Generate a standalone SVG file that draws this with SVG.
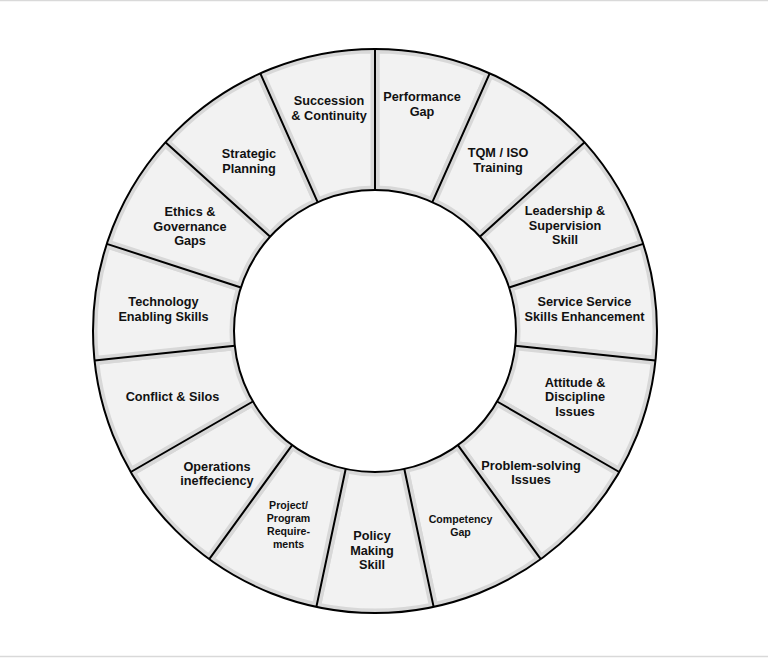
<svg xmlns="http://www.w3.org/2000/svg" width="768" height="658" viewBox="0 0 768 658">
<style>
.seg{fill:#f2f2f2;stroke:#d8d8d8;stroke-width:9;stroke-linejoin:miter}
.lbl{font-family:"Liberation Sans",Arial,sans-serif;font-weight:bold;font-size:12.7px;fill:#111;text-anchor:middle}
.sm{font-size:10.6px}
.ln{fill:none;stroke:#000;stroke-width:2}
</style>
<defs>
<clipPath id="ring">
<path clip-rule="evenodd" d="M93 331A282 282 0 1 0 657 331A282 282 0 1 0 93 331ZM234 331A141 141 0 1 0 516 331A141 141 0 1 0 234 331Z"/>
</clipPath>
</defs>
<rect width="768" height="658" fill="#fff"/>
<line x1="0" y1="0.5" x2="768" y2="0.5" stroke="#d9d9d9" stroke-width="1.5"/>
<line x1="0" y1="656.5" x2="768" y2="656.5" stroke="#d9d9d9" stroke-width="1.5"/>
<g clip-path="url(#ring)">
<g id="seg-performance"><path class="seg" d="M375 49A282 282 0 0 1 489.70 73.38L432.35 202.19A141 141 0 0 0 375 190Z"/></g>
<g id="seg-tqm"><path class="seg" d="M489.70 73.38A282 282 0 0 1 584.57 142.31L479.78 236.65A141 141 0 0 0 432.35 202.19Z"/></g>
<g id="seg-leadership"><path class="seg" d="M584.57 142.31A282 282 0 0 1 643.20 243.86L509.10 287.43A141 141 0 0 0 479.78 236.65Z"/></g>
<g id="seg-service"><path class="seg" d="M643.20 243.86A282 282 0 0 1 655.45 360.48L515.23 345.74A141 141 0 0 0 509.10 287.43Z"/></g>
<g id="seg-attitude"><path class="seg" d="M655.45 360.48A282 282 0 0 1 619.22 472L497.11 401.5A141 141 0 0 0 515.23 345.74Z"/></g>
<g id="seg-problem"><path class="seg" d="M619.22 472A282 282 0 0 1 540.76 559.14L457.88 445.07A141 141 0 0 0 497.11 401.5Z"/></g>
<g id="seg-competency"><path class="seg" d="M540.76 559.14A282 282 0 0 1 433.63 606.84L404.32 468.92A141 141 0 0 0 457.88 445.07Z"/></g>
<g id="seg-policy"><path class="seg" d="M433.63 606.84A282 282 0 0 1 316.37 606.84L345.68 468.92A141 141 0 0 0 404.32 468.92Z"/></g>
<g id="seg-project"><path class="seg" d="M316.37 606.84A282 282 0 0 1 209.24 559.14L292.12 445.07A141 141 0 0 0 345.68 468.92Z"/></g>
<g id="seg-operations"><path class="seg" d="M209.24 559.14A282 282 0 0 1 130.78 472L252.89 401.5A141 141 0 0 0 292.12 445.07Z"/></g>
<g id="seg-conflict"><path class="seg" d="M130.78 472A282 282 0 0 1 94.55 360.48L234.77 345.74A141 141 0 0 0 252.89 401.5Z"/></g>
<g id="seg-technology"><path class="seg" d="M94.55 360.48A282 282 0 0 1 106.80 243.86L240.90 287.43A141 141 0 0 0 234.77 345.74Z"/></g>
<g id="seg-ethics"><path class="seg" d="M106.80 243.86A282 282 0 0 1 165.43 142.31L270.22 236.65A141 141 0 0 0 240.90 287.43Z"/></g>
<g id="seg-strategic"><path class="seg" d="M165.43 142.31A282 282 0 0 1 260.30 73.38L317.65 202.19A141 141 0 0 0 270.22 236.65Z"/></g>
<g id="seg-succession"><path class="seg" d="M260.30 73.38A282 282 0 0 1 375 49L375 190A141 141 0 0 0 317.65 202.19Z"/></g>
</g>
<g id="connectors">
<circle class="ln" cx="375" cy="331" r="282"/>
<circle class="ln" cx="375" cy="331" r="141"/>
<path class="ln" d="M375 49L375 190M489.70 73.38L432.35 202.19M584.57 142.31L479.78 236.65M643.20 243.86L509.10 287.43M655.45 360.48L515.23 345.74M619.22 472L497.11 401.5M540.76 559.14L457.88 445.07M433.63 606.84L404.32 468.92M316.37 606.84L345.68 468.92M209.24 559.14L292.12 445.07M130.78 472L252.89 401.5M94.55 360.48L234.77 345.74M106.80 243.86L240.90 287.43M165.43 142.31L270.22 236.65M260.30 73.38L317.65 202.19"/>
</g>
<g id="labels">
<g id="lbl-performance"><text class="lbl" x="422" y="101">Performance</text><text class="lbl" x="422" y="115.5">Gap</text></g>
<g id="lbl-tqm"><text class="lbl" x="498" y="157">TQM / ISO</text><text class="lbl" x="498" y="171.5">Training</text></g>
<g id="lbl-leadership"><text class="lbl" x="565" y="215">Leadership &amp;</text><text class="lbl" x="565" y="229.5">Supervision</text><text class="lbl" x="565" y="244">Skill</text></g>
<g id="lbl-service"><text class="lbl" x="584.5" y="306">Service Service</text><text class="lbl" x="584.5" y="320.5">Skills Enhancement</text></g>
<g id="lbl-attitude"><text class="lbl" x="575" y="386.5">Attitude &amp;</text><text class="lbl" x="575" y="401">Discipline</text><text class="lbl" x="575" y="415.5">Issues</text></g>
<g id="lbl-problem"><text class="lbl" x="531" y="469.5">Problem-solving</text><text class="lbl" x="531" y="484">Issues</text></g>
<g id="lbl-competency"><text class="lbl sm" x="460.5" y="522.5">Competency</text><text class="lbl sm" x="460.5" y="535.5">Gap</text></g>
<g id="lbl-policy"><text class="lbl" x="372" y="540">Policy</text><text class="lbl" x="372" y="554.5">Making</text><text class="lbl" x="372" y="569">Skill</text></g>
<g id="lbl-project"><text class="lbl sm" x="288.5" y="508.5">Project/</text><text class="lbl sm" x="288.5" y="522">Program</text><text class="lbl sm" x="288.5" y="535">Require-</text><text class="lbl sm" x="288.5" y="548">ments</text></g>
<g id="lbl-operations"><text class="lbl" x="217" y="470.5">Operations</text><text class="lbl" x="217" y="485">ineffeciency</text></g>
<g id="lbl-conflict"><text class="lbl" x="172.5" y="400.5">Conflict &amp; Silos</text></g>
<g id="lbl-technology"><text class="lbl" x="163.5" y="306">Technology</text><text class="lbl" x="163.5" y="320.5">Enabling Skills</text></g>
<g id="lbl-ethics"><text class="lbl" x="190" y="216">Ethics &amp;</text><text class="lbl" x="190" y="230.5">Governance</text><text class="lbl" x="190" y="245">Gaps</text></g>
<g id="lbl-strategic"><text class="lbl" x="249" y="158">Strategic</text><text class="lbl" x="249" y="172.5">Planning</text></g>
<g id="lbl-succession"><text class="lbl" x="329" y="105">Succession</text><text class="lbl" x="329" y="119.5">&amp; Continuity</text></g>
</g>
</svg>
